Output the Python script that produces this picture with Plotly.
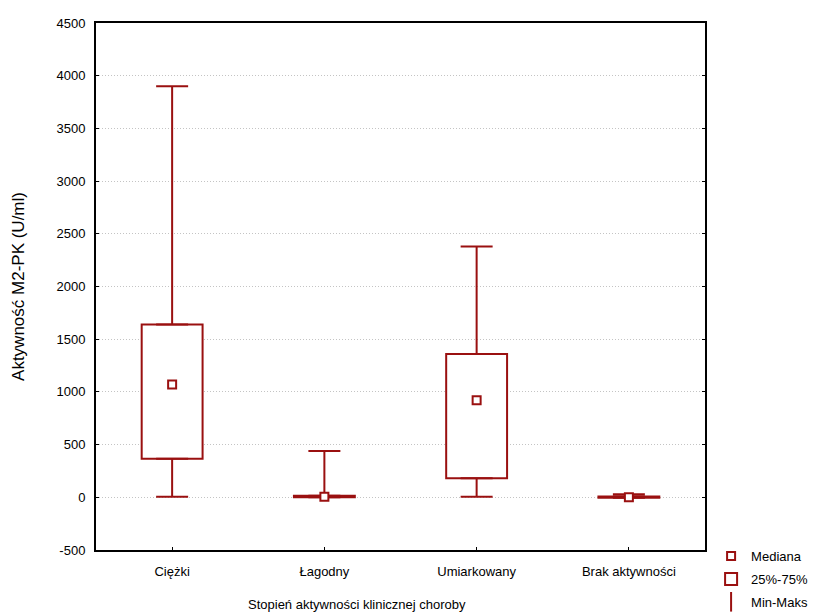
import plotly.graph_objects as go

categories = ["Ciężki", "Łagodny", "Umiarkowany", "Brak aktywności"]
minimum = [5, 0, 5, -5]
q1 = [365, 0, 180, -5]
median = [1070, 5, 920, 0]
q3 = [1640, 15, 1360, 8]
maximum = [3900, 440, 2380, 28]

yticks = [-500, 0, 500, 1000, 1500, 2000, 2500, 3000, 3500, 4000, 4500]
yticklabels = ["-500", "0", "500", "1000", "1500", "2000", "2500", "3000", "3500", "4000", "4500"]

RED = "#9a1010"
FONT = "Liberation Sans, Arial, sans-serif"

fig = go.Figure()

# interquartile box
fig.add_trace(go.Bar(
    x=categories,
    y=[b - a for a, b in zip(q1, q3)],
    base=q1,
    width=0.4,
    marker=dict(color="white", line=dict(color=RED, width=2)),
    name="25%-75%",
    legendrank=2, legendgroup="b",
))

# upper whiskers
fig.add_trace(go.Scatter(
    x=categories, y=q3, mode="markers",
    marker=dict(size=1, opacity=0),
    error_y=dict(type="data", symmetric=False,
                 array=[b - a for a, b in zip(q3, maximum)],
                 arrayminus=[0] * len(q3),
                 color=RED, thickness=2, width=16),
    showlegend=False, hoverinfo="skip",
))
# lower whiskers
fig.add_trace(go.Scatter(
    x=categories, y=q1, mode="markers",
    marker=dict(size=1, opacity=0),
    error_y=dict(type="data", symmetric=False,
                 array=[0] * len(q1),
                 arrayminus=[a - b for a, b in zip(q1, minimum)],
                 color=RED, thickness=2, width=16),
    showlegend=False, hoverinfo="skip",
))

# median
fig.add_trace(go.Scatter(
    x=categories, y=median, mode="markers",
    marker=dict(symbol="square", size=8, color="white",
                line=dict(color=RED, width=2)),
    name="Mediana",
    legendrank=1, legendgroup="a",
))

# legend-only entry for whiskers
fig.add_trace(go.Scatter(
    x=[None], y=[None], mode="markers",
    marker=dict(symbol="line-ns", size=14, color=RED,
                line=dict(color=RED, width=2)),
    name="Min-Maks",
    legendrank=3, legendgroup="c",
))

fig.update_layout(
    width=817, height=616,
    margin=dict(l=96, r=112, t=23, b=66, autoexpand=False),
    plot_bgcolor="white", paper_bgcolor="white",
    font=dict(family=FONT, size=13, color="black"),
    showlegend=True,
    legend=dict(x=1.01, y=0.017, xanchor="left", yanchor="top",
                font=dict(size=13), tracegroupgap=3,
                itemsizing="trace", itemwidth=30, bgcolor="rgba(0,0,0,0)"),
    xaxis=dict(
        type="category", range=[-0.5, 3.5],
        showline=True, linecolor="black", linewidth=2, mirror=True,
        ticks="inside", ticklen=3, tickcolor="black",
        showgrid=False, zeroline=False,
        tickfont=dict(size=13), ticklabelstandoff=8,
    ),
    yaxis=dict(
        range=[-500, 4500], tickvals=yticks, ticktext=yticklabels,
        showline=True, linecolor="black", linewidth=2, mirror="ticks",
        ticks="inside", ticklen=3, tickcolor="black",
        showgrid=True, gridcolor="#c4c4c4", griddash="1px,2px", gridwidth=1,
        zeroline=False,
        tickfont=dict(size=13), ticklabelstandoff=6,
        title=dict(text="Aktywność M2-PK (U/ml)", font=dict(size=17), standoff=28),
    ),
    annotations=[dict(
        text="Stopień aktywności klinicznej choroby",
        xref="paper", yref="paper", x=0.4286, y=-0.104,
        xanchor="center", yanchor="middle", showarrow=False,
        font=dict(size=13),
    )],
)

fig.write_html("out.html")
